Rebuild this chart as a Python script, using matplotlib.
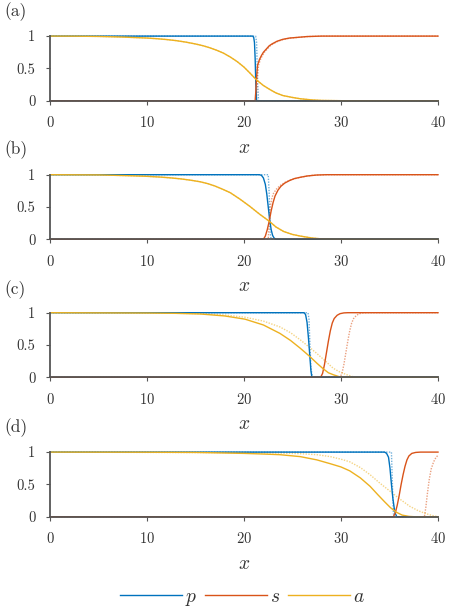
import matplotlib
matplotlib.use("Agg")
import matplotlib.pyplot as plt

# =========================
# DATA
# =========================

panel_labels = ["(a)", "(b)", "(c)", "(d)"]
series_names = ["p", "s", "a"]
x_ticks = [0, 10, 20, 30, 40]
y_ticks = [0, 0.5, 1]
y_tick_labels = ["0", "0.5", "1"]

# panel (a)
p_a_x = [0, 20.9, 21.0, 21.08, 21.15, 21.22, 21.3, 40]
p_a_y = [1, 1, 0.98, 0.9, 0.65, 0.25, 0, 0]
p_a_dot_x = [0, 21.2, 21.3, 21.4, 21.5, 40]
p_a_dot_y = [1, 1, 0.9, 0.3, 0, 0]
s_a_x = [0, 21.15, 21.22, 21.3, 21.4, 21.6, 21.8, 22.0, 22.3, 22.6, 22.9, 23.4, 24, 24.7, 25.5, 26.5, 28, 40]
s_a_y = [0, 0, 0.15, 0.38, 0.55, 0.64, 0.7, 0.75, 0.8, 0.85, 0.88, 0.92, 0.95, 0.97, 0.98, 0.993, 1, 1]
s_a_dot_x = [0, 21.25, 21.32, 21.4, 21.5, 21.7, 21.9, 22.1, 22.4, 22.7, 23.0, 23.5, 24.1, 24.8, 25.6, 26.6, 28, 40]
s_a_dot_y = [0, 0, 0.15, 0.38, 0.55, 0.64, 0.7, 0.75, 0.8, 0.85, 0.88, 0.92, 0.95, 0.97, 0.98, 0.993, 1, 1]
a_a_x = [0, 2.5, 5, 7.5, 10, 11, 12, 13, 14, 15, 15.8, 16.5, 17.2, 17.9, 18.6, 19.3, 20, 20.6, 21.3, 22, 22.7, 23.3, 24, 25, 25.8, 27, 28, 30, 40]
a_a_y = [1, 0.999, 0.995, 0.985, 0.97, 0.96, 0.947, 0.93, 0.907, 0.878, 0.85, 0.818, 0.78, 0.735, 0.675, 0.605, 0.52, 0.43, 0.32, 0.235, 0.17, 0.12, 0.08, 0.05, 0.03, 0.012, 0.004, 0, 0]
a_a_dot_x = a_a_x
a_a_dot_y = a_a_y

# panel (b)
p_b_x = [0, 21.6, 21.8, 22.0, 22.2, 22.35, 22.5, 22.65, 22.8, 22.95, 23.1, 23.3, 40]
p_b_y = [1, 1, 0.99, 0.95, 0.85, 0.7, 0.5, 0.3, 0.15, 0.06, 0.02, 0, 0]
p_b_dot_x = [0, 22.5, 22.6, 22.7, 22.8, 40]
p_b_dot_y = [1, 1, 0.7, 0.1, 0, 0]
s_b_x = [0, 22.0, 22.2, 22.4, 22.6, 22.8, 23.0, 23.2, 23.5, 23.8, 24.2, 24.7, 25.2, 25.8, 26.5, 27.5, 28.5, 40]
s_b_y = [0, 0, 0.05, 0.15, 0.28, 0.44, 0.57, 0.67, 0.76, 0.82, 0.87, 0.91, 0.94, 0.96, 0.98, 0.995, 1, 1]
s_b_dot_x = [0, 22.5, 22.6, 22.7, 22.85, 23.0, 23.3, 23.7, 24.2, 24.8, 25.8, 27, 28.5, 40]
s_b_dot_y = [0, 0, 0.3, 0.5, 0.62, 0.7, 0.77, 0.83, 0.88, 0.92, 0.96, 0.99, 1, 1]
a_b_x = [0, 5, 8, 10, 11.5, 12.5, 13.5, 14.5, 15.5, 16.3, 17, 17.8, 18.6, 19.6, 20.6, 21.6, 22.6, 23.3, 24.1, 25, 25.8, 27, 28, 30, 40]
a_b_y = [1, 0.997, 0.985, 0.975, 0.962, 0.95, 0.935, 0.915, 0.89, 0.86, 0.825, 0.775, 0.72, 0.62, 0.51, 0.39, 0.28, 0.19, 0.12, 0.075, 0.05, 0.02, 0.006, 0, 0]
a_b_dot_x = a_b_x
a_b_dot_y = a_b_y

# panel (c)
p_c_x = [0, 26.2, 26.35, 26.5, 26.65, 26.8, 26.9, 27.0, 40]
p_c_y = [1, 1, 0.97, 0.85, 0.6, 0.3, 0.1, 0, 0]
p_c_dot_x = [0, 26.6, 26.7, 26.8, 26.9, 27.05, 40]
p_c_dot_y = [1, 1, 0.9, 0.5, 0.15, 0, 0]
s_c_x = [0, 27.9, 28.1, 28.3, 28.5, 28.7, 28.9, 29.1, 29.3, 29.6, 29.9, 30.3, 30.7, 40]
s_c_y = [0, 0, 0.06, 0.2, 0.38, 0.56, 0.72, 0.84, 0.91, 0.96, 0.985, 0.997, 1, 1]
s_c_dot_x = [0, 29.9, 30.1, 30.3, 30.5, 30.7, 30.9, 31.1, 31.3, 31.6, 31.9, 32.3, 32.7, 40]
s_c_dot_y = [0, 0, 0.06, 0.2, 0.38, 0.56, 0.72, 0.84, 0.91, 0.96, 0.985, 0.997, 1, 1]
a_c_x = [0, 10, 13, 15.5, 18, 20.1, 22, 23.7, 24.8, 25.8, 26.8, 27.5, 28.1, 28.7, 29.2, 29.8, 30.5, 40]
a_c_y = [1, 0.995, 0.99, 0.98, 0.95, 0.9, 0.81, 0.68, 0.57, 0.45, 0.32, 0.22, 0.14, 0.07, 0.04, 0.01, 0, 0]
a_c_dot_x = [0, 10, 15.5, 18, 20.1, 22, 23.7, 24.8, 25.8, 26.7, 27.5, 28.4, 29.2, 29.9, 30.6, 31.2, 31.8, 40]
a_c_dot_y = [1, 0.998, 0.985, 0.965, 0.93, 0.87, 0.78, 0.69, 0.58, 0.47, 0.37, 0.25, 0.14, 0.08, 0.04, 0.01, 0, 0]

# panel (d)
p_d_x = [0, 34.5, 34.7, 34.9, 35.05, 35.2, 35.35, 35.5, 35.6, 35.75, 40]
p_d_y = [1, 1, 0.98, 0.92, 0.75, 0.5, 0.28, 0.12, 0.05, 0, 0]
p_d_dot_x = [0, 35.2, 35.3, 35.4, 35.5, 40]
p_d_dot_y = [1, 1, 0.5, 0.05, 0, 0]
s_d_x = [0, 35.4, 35.6, 35.8, 36.0, 36.2, 36.4, 36.6, 36.8, 37.0, 37.3, 37.7, 38.2, 40]
s_d_y = [0, 0, 0.06, 0.18, 0.33, 0.5, 0.65, 0.78, 0.88, 0.94, 0.98, 0.995, 1, 1]
s_d_dot_x = [0, 38.6, 38.75, 38.9, 39.1, 39.3, 39.55, 39.8, 40]
s_d_dot_y = [0, 0, 0.15, 0.35, 0.58, 0.74, 0.85, 0.92, 0.95]
a_d_x = [0, 10, 15, 20, 22, 23.7, 25.8, 27.5, 28.9, 30, 30.9, 32, 33, 33.8, 34.5, 35.1, 35.7, 36.3, 37, 37.5, 40]
a_d_y = [1, 0.998, 0.995, 0.98, 0.97, 0.96, 0.93, 0.88, 0.82, 0.77, 0.71, 0.6, 0.47, 0.34, 0.23, 0.14, 0.07, 0.025, 0.005, 0, 0]
a_d_dot_x = [0, 20, 23.7, 25.8, 27.5, 28.9, 30, 30.9, 32, 33, 34, 35.1, 36, 37.1, 38, 38.8, 39.5, 40]
a_d_dot_y = [1, 0.99, 0.985, 0.975, 0.96, 0.93, 0.89, 0.85, 0.76, 0.65, 0.52, 0.39, 0.28, 0.16, 0.09, 0.045, 0.015, 0]

# =========================
# STYLE
# =========================

plt.rcParams["font.family"] = "serif"
plt.rcParams["font.serif"] = ["cmr10", "DejaVu Serif"]
plt.rcParams["mathtext.fontset"] = "cm"
plt.rcParams["axes.formatter.use_mathtext"] = True

colors = ["#0072BD", "#D95319", "#EDB120"]
axis_color = "#555555"
text_color = "#333333"

panels = [
    [(p_a_x, p_a_y, p_a_dot_x, p_a_dot_y), (s_a_x, s_a_y, s_a_dot_x, s_a_dot_y), (a_a_x, a_a_y, a_a_dot_x, a_a_dot_y)],
    [(p_b_x, p_b_y, p_b_dot_x, p_b_dot_y), (s_b_x, s_b_y, s_b_dot_x, s_b_dot_y), (a_b_x, a_b_y, a_b_dot_x, a_b_dot_y)],
    [(p_c_x, p_c_y, p_c_dot_x, p_c_dot_y), (s_c_x, s_c_y, s_c_dot_x, s_c_dot_y), (a_c_x, a_c_y, a_c_dot_x, a_c_dot_y)],
    [(p_d_x, p_d_y, p_d_dot_x, p_d_dot_y), (s_d_x, s_d_y, s_d_dot_x, s_d_dot_y), (a_d_x, a_d_y, a_d_dot_x, a_d_dot_y)],
]

# =========================
# PLOT
# =========================

W, H = 461, 615
fig = plt.figure(figsize=(W / 100, H / 100), dpi=100)

left = 50 / W
width = 388 / W
height = 64.6 / H
bottoms_px = [100.7, 239.3, 377.3, 516.7]
label_y_px = [12, 150, 290, 428]

handles = []
for k, curves in enumerate(panels):
    ax = fig.add_axes([left, 1 - bottoms_px[k] / H, width, height])

    for j, (x, y, xd, yd) in enumerate(curves):
        ax.plot(xd, yd, color=colors[j], lw=1.0, ls=(0, (1, 1)), alpha=0.55, clip_on=False)
    for j, (x, y, xd, yd) in enumerate(curves):
        line, = ax.plot(x, y, color=colors[j], lw=1.0, clip_on=False)
        if k == 0:
            handles.append(line)

    ax.set_xlim(0, 40)
    ax.set_ylim(0, 1)
    ax.set_xticks(x_ticks)
    ax.set_yticks(y_ticks)
    ax.set_yticklabels(y_tick_labels)
    for side in ["top", "right"]:
        ax.spines[side].set_visible(False)
    for side in ["left", "bottom"]:
        ax.spines[side].set_color(axis_color)
        ax.spines[side].set_linewidth(1.3)
        ax.spines[side].set_zorder(5)
    ax.tick_params(colors=axis_color, labelcolor=text_color, labelsize=10.5,
                   length=3, width=0.8, direction="out", pad=7.5)
    ax.set_xlabel("$x$", fontsize=14, color=text_color, labelpad=6)

    fig.text(4 / W, 1 - label_y_px[k] / H, panel_labels[k], fontsize=12.5,
             color=text_color, va="center", ha="left")

fig.legend(handles, ["$" + n + "$" for n in series_names],
           loc="center", bbox_to_anchor=(0.526, 1 - 598 / H), ncol=3,
           frameon=False, fontsize=14, handlelength=3.2, handletextpad=0.15,
           columnspacing=0.4, labelcolor=text_color)

plt.savefig("out.png", dpi=100)
